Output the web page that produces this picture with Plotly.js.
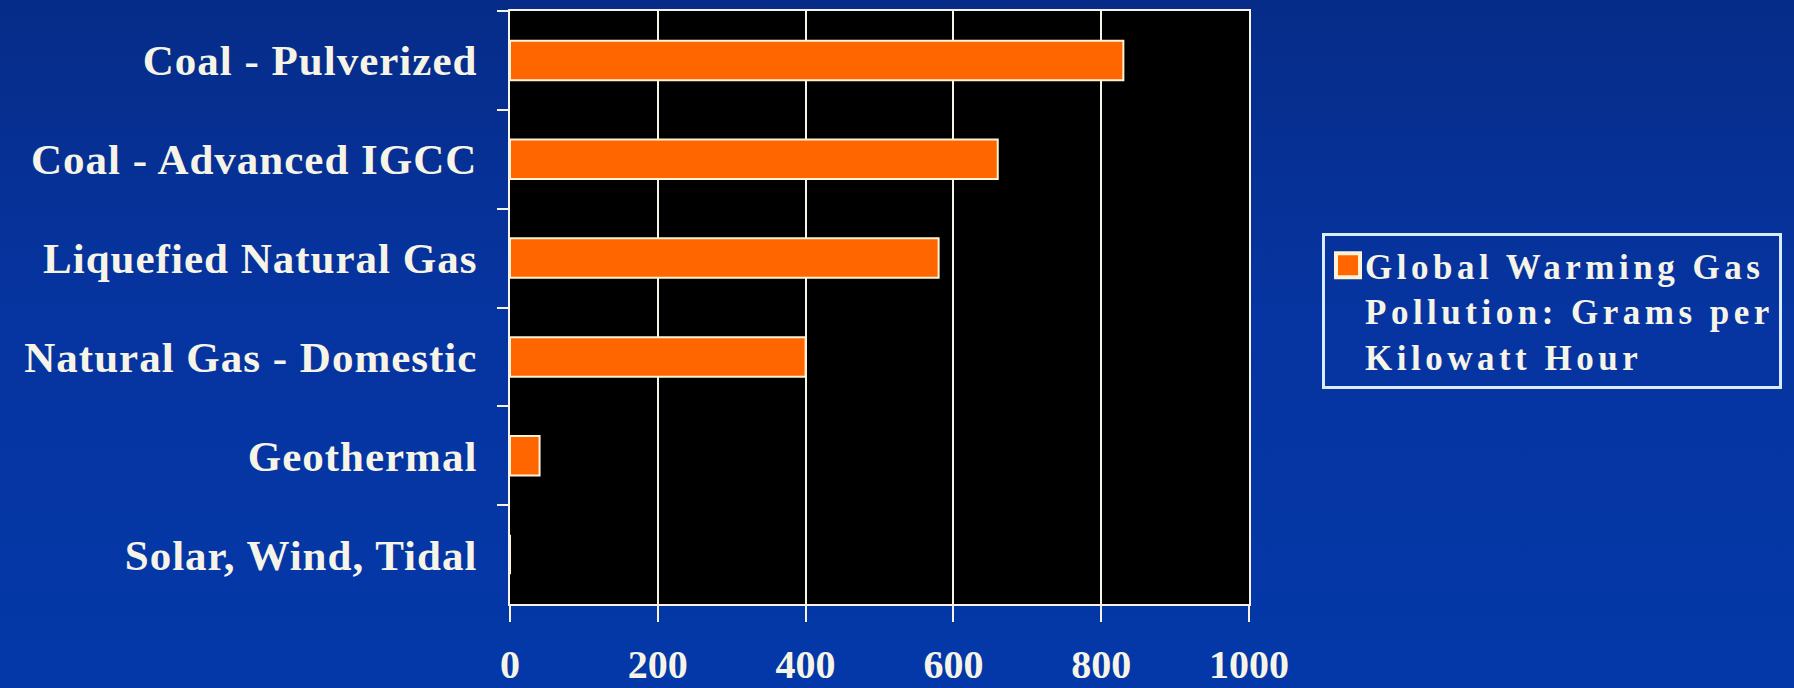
<!DOCTYPE html>
<html>
<head>
<meta charset="utf-8">
<script src="https://cdn.plot.ly/plotly-3.0.1.min.js"></script>
<style>
  html, body { margin: 0; padding: 0; }
  body {
    width: 1794px; height: 688px; overflow: hidden;
    background: linear-gradient(180deg, #062c88 0%, #0634a0 45%, #0438a8 100%);
  }
  #chart { width: 1794px; height: 688px; }
  .ytick text { letter-spacing: 1px; }
  .legendtext { letter-spacing: 4.5px; }
</style>
</head>
<body>
<div id="chart"></div>
<script>
// ---- data ----
const categories = [
  "Coal - Pulverized",
  "Coal - Advanced IGCC",
  "Liquefied Natural Gas",
  "Natural Gas - Domestic",
  "Geothermal",
  "Solar, Wind, Tidal"
];
const gramsPerKwh = [830, 660, 580, 400, 40, 0];
const seriesName = "Global Warming Gas<br>Pollution: Grams per<br>Kilowatt Hour";
const xTickValues = [0, 200, 400, 600, 800, 1000];

// ---- style ----
const cream = "#F6F4E6";
const serif = "'Liberation Serif', 'Times New Roman', serif";

const trace = {
  type: "bar",
  orientation: "h",
  x: gramsPerKwh,
  y: categories,
  name: seriesName,
  marker: { color: "#FF6600", line: { color: "#FFF3D6", width: 2 } },
  showlegend: true,
  hoverinfo: "x+y"
};

const layout = {
  width: 1794,
  height: 688,
  margin: { l: 510, r: 545, t: 11, b: 84, pad: 0 },
  paper_bgcolor: "rgba(0,0,0,0)",
  plot_bgcolor: "#000000",
  bargap: 0.6,
  showlegend: true,
  xaxis: {
    range: [0, 1000],
    tickvals: xTickValues,
    ticktext: xTickValues.map(String),
    showgrid: true,
    gridcolor: cream,
    gridwidth: 2,
    zeroline: false,
    showline: true,
    linecolor: cream,
    linewidth: 2,
    mirror: true,
    ticks: "outside",
    ticklen: 16,
    tickwidth: 2,
    tickcolor: cream,
    ticklabelstandoff: 8,
    tickfont: { family: serif, size: 40, color: cream, weight: "bold" },
    fixedrange: true
  },
  yaxis: {
    type: "category",
    autorange: "reversed",
    showgrid: false,
    zeroline: false,
    showline: true,
    linecolor: cream,
    linewidth: 2,
    mirror: true,
    ticks: "outside",
    tickson: "boundaries",
    ticklen: 11,
    tickwidth: 2,
    tickcolor: cream,
    ticklabelstandoff: 22,
    tickfont: { family: serif, size: 43, color: cream, weight: "bold" },
    fixedrange: true
  },
  legend: {
    x: 1.0988,
    y: 0.6256,
    xanchor: "left",
    yanchor: "top",
    bgcolor: "rgba(0,0,0,0)",
    bordercolor: "#D8ECFF",
    borderwidth: 3,
    valign: "top",
    font: { family: serif, size: 35, color: cream, weight: "bold" }
  }
};

Plotly.newPlot("chart", [trace], layout, { displayModeBar: false, staticPlot: true }).then(function (gd) {
  // enlarge the legend swatch to match the reference's larger square
  gd.querySelectorAll(".legend .legendpoints path").forEach(function (p) {
    const t = p.getAttribute("transform") || "";
    p.setAttribute("transform", t + " translate(3,0) scale(2)");
  });
});
</script>
</body>
</html>
